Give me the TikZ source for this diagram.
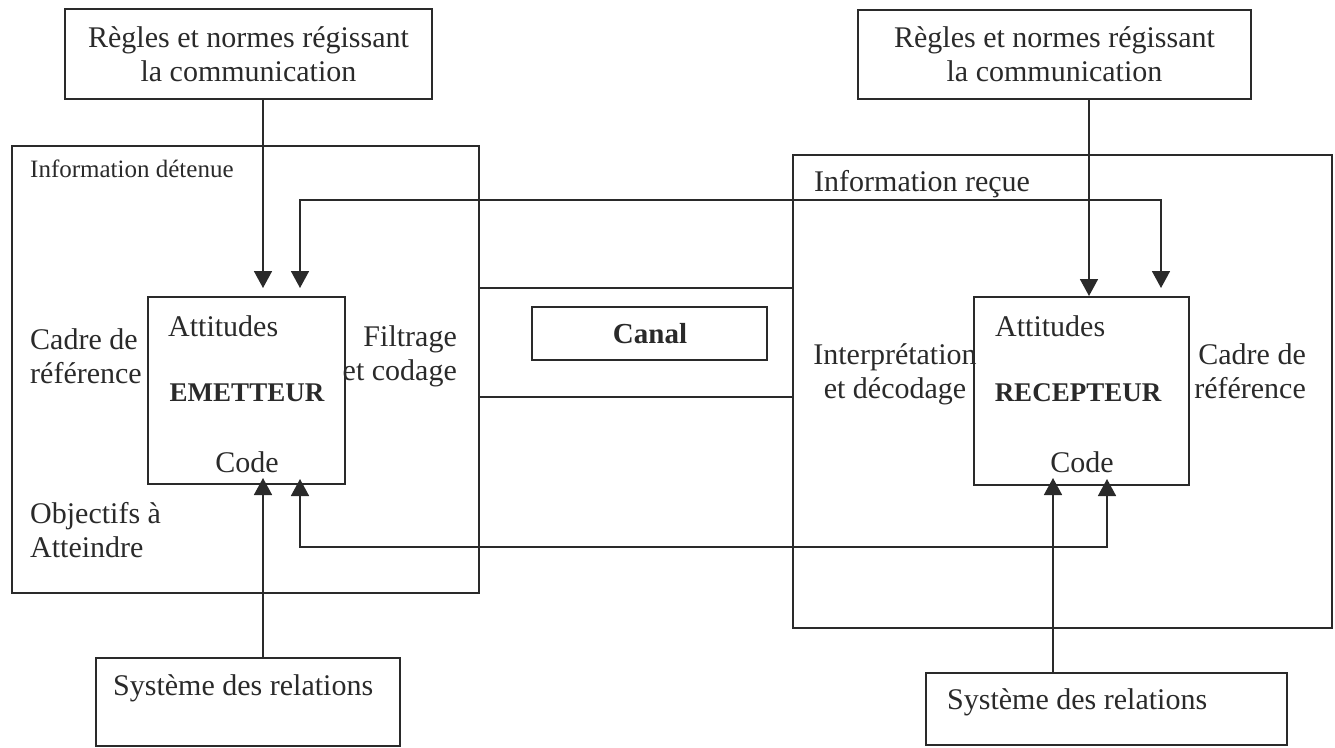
\documentclass[tikz,border=0pt]{standalone}
\usepackage{fontspec}
\setmainfont{Liberation Serif}
\usetikzlibrary{arrows.meta}
\definecolor{ink}{HTML}{2A2A2A}
\begin{document}
\begin{tikzpicture}[x=1pt,y=-1pt,
  frame/.style={draw=ink, line width=1.7pt, inner sep=0pt},
  txt/.style={text=ink, inner sep=0pt, font=\fontsize{30}{34}\selectfont},
  small/.style={text=ink, inner sep=0pt, font=\fontsize{25}{29}\selectfont},
  role/.style={text=ink, inner sep=0pt, font=\fontsize{27}{31}\selectfont\bfseries},
  wire/.style={draw=ink, line width=1.7pt},
  link/.style={wire, -{Triangle[length=17pt,width=18pt]}},
  dlink/.style={wire, {Triangle[length=17pt,width=18pt]}-{Triangle[length=17pt,width=18pt]}}]
\useasboundingbox (0,0) rectangle (1335,747);

% rules boxes at the top
\node[frame, txt, align=center, minimum width=367pt, minimum height=90pt] (RL) at (248.5,54)
  {Règles et normes régissant\\la communication};
\node[frame, txt, align=center, minimum width=393pt, minimum height=89pt] (RR) at (1054.5,54.5)
  {Règles et normes régissant\\la communication};

% sender and receiver environments
\node[frame, minimum width=467pt, minimum height=447pt] (LB) at (245.5,369.5) {};
\node[frame, minimum width=539pt, minimum height=473pt] (RB) at (1062.5,391.5) {};
\node[small, anchor=west] (infoD) at (30,169) {Information détenue};
\node[txt, anchor=west] (infoR) at (814,184) {Information reçue};

% sender
\node[frame, minimum width=197pt, minimum height=187pt] (EM) at (246.5,390.5) {};
\node[txt, anchor=west] (attL) at (168,326) {Attitudes};
\node[role] (emT) at (247,393) {EMETTEUR};
\node[txt] (codeL) at (247,462) {Code};
\node[txt, anchor=west, align=left] (cadreL) at (30,356) {Cadre de\\référence};
\node[txt, anchor=east, align=right] (filt) at (457,356) {Filtrage\\et codage};
\node[txt, anchor=west, align=left] (obj) at (30,530) {Objectifs à\\Atteindre};

% receiver
\node[frame, minimum width=215pt, minimum height=188pt] (RC) at (1081.5,391) {};
\node[txt, anchor=west] (attR) at (995,326) {Attitudes};
\node[role] (rcT) at (1078,393) {RECEPTEUR};
\node[txt] (codeR) at (1082,462) {Code};
\node[txt, align=center] (interp) at (895,374) {Interprétation\\et décodage};
\node[txt, anchor=east, align=right] (cadreR) at (1306,371) {Cadre de\\référence};

% channel between the two environments
\coordinate (chT) at (479,288);
\coordinate (chB) at (479,397);
\draw[wire] (chT) -- (chT -| RB.west);
\draw[wire] (chB) -- (chB -| RB.west);
\node[frame, minimum width=235pt, minimum height=53pt] (canal) at (649.5,333.5) {};
\node[text=ink, inner sep=0pt, font=\fontsize{29}{33}\selectfont\bfseries] (canalT) at (650,334) {Canal};

% relation system boxes at the bottom
\node[frame, minimum width=304pt, minimum height=88pt] (SL) at (248,702) {};
\node[txt, anchor=west] (SLt) at (113,688) {Système des relations};
\node[frame, minimum width=361pt, minimum height=72pt] (SR) at (1106.5,709) {};
\node[txt, anchor=west] (SRt) at (947,702) {Système des relations};

% arrow tips
\coordinate (a1) at (263,288);
\coordinate (a2) at (300,288);
\coordinate (a3) at (1161,288);
\coordinate (b1) at (1089,296);
\coordinate (c1) at (300,479);
\coordinate (c2) at (1107,479);
\coordinate (d1) at (263,478);
\coordinate (d2) at (1053,478);
\coordinate (topY) at (0,200);
\coordinate (botY) at (0,547);

% rules feeding both parties
\draw[link] (RL.south -| a1) -- (a1);
\draw[link] (RR.south -| b1) -- (b1);

% information loop sender <-> receiver
\draw[dlink] (a2) -- (a2 |- topY) -- (a3 |- topY) -- (a3);
\draw[dlink] (c1) -- (c1 |- botY) -- (c2 |- botY) -- (c2);

% relation systems feeding the codes
\draw[link] (SL.north -| d1) -- (d1);
\draw[link] (SR.north -| d2) -- (d2);
\end{tikzpicture}
\end{document}
